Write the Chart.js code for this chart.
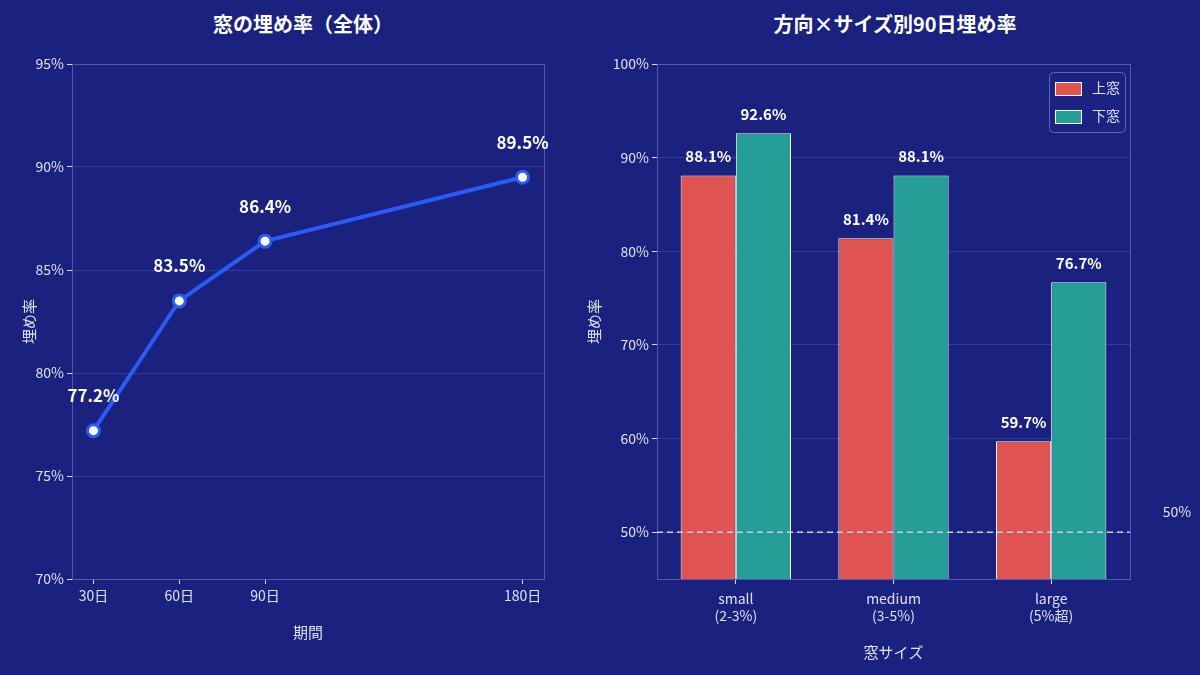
<!DOCTYPE html>
<html>
<head>
<meta charset="utf-8">
<script src="https://cdn.jsdelivr.net/npm/chart.js@4.4.1/dist/chart.umd.min.js"></script>
<style>
html, body { margin: 0; padding: 0; background: #1b217e; }
#wrap { position: relative; width: 1200px; height: 675px; overflow: hidden; font-family: "Noto Sans CJK JP", sans-serif; }
.title { position: absolute; top: 9px; color: #fff; font-weight: bold; font-size: 20px; text-align: center; }
.box { position: absolute; top: 0; height: 675px; }
</style>
</head>
<body>
<div id="wrap">
  <div class="title" style="left:153px;width:300px;">窓の埋め率（全体）</div>
  <div class="title" style="left:745px;width:300px;">方向×サイズ別90日埋め率</div>
  <div class="box" style="left:0;width:570px;"><canvas id="graph-line"></canvas></div>
  <div class="box" style="left:570px;width:630px;"><canvas id="graph-bar"></canvas></div>
</div>
<script>
// left chart
var periods = [30, 60, 90, 180];
var fillRate = [77.2, 83.5, 86.4, 89.5];
var lineTicks = [70, 75, 80, 85, 90, 95];

// right chart
var sizes = [["small", "(2-3%)"], ["medium", "(3-5%)"], ["large", "(5%超)"]];
var upperRate = [88.1, 81.4, 59.7];
var lowerRate = [92.6, 88.1, 76.7];
var barTicks = [50, 60, 70, 80, 90, 100];
var refLine = 50;

var txt = '#dde2f5';
var gridCol = '#343d96';
var spineCol = '#5058b0';

Chart.defaults.font.family = '"Noto Sans CJK JP", sans-serif';
Chart.defaults.color = txt;
Chart.defaults.animation = false;

var framePlugin = {
    id: 'frame',
    afterDatasetsDraw: function(chart){
        var a = chart.chartArea, c = chart.ctx;
        c.save();
        c.strokeStyle = spineCol;
        c.lineWidth = 1;
        c.strokeRect(a.left + 0.5, a.top + 0.5, a.right - a.left, a.bottom - a.top);
        c.restore();
    }
};

var valueLabels = {
    id: 'valueLabels',
    afterDraw: function(chart, args, opts){
        var c = chart.ctx;
        c.save();
        c.fillStyle = '#fff';
        c.font = 'bold ' + opts.size + 'px "Noto Sans CJK JP", sans-serif';
        c.textAlign = 'center';
        c.textBaseline = 'middle';
        chart.data.datasets.forEach(function(ds, i){
            chart.getDatasetMeta(i).data.forEach(function(el, j){
                var v = ds.data[j];
                if (typeof v == 'object') v = v.y;
                c.fillText(v.toFixed(1) + '%', el.x, el.y - opts.offset);
            });
        });
        c.restore();
    }
};

var refPlugin = {
    id: 'refLine',
    afterDatasetsDraw: function(chart){
        var a = chart.chartArea, c = chart.ctx;
        var y = chart.scales.y.getPixelForValue(refLine);
        c.save();
        c.strokeStyle = '#c9cfe8';
        c.lineWidth = 1.5;
        c.setLineDash([6, 4]);
        c.beginPath();
        c.moveTo(a.left, y);
        c.lineTo(a.right, y);
        c.stroke();
        c.setLineDash([]);
        c.fillStyle = txt;
        c.font = '14px "Noto Sans CJK JP", sans-serif';
        c.textAlign = 'center';
        c.textBaseline = 'middle';
        c.fillText(refLine + '%', a.right + 47, y - 20);
        c.restore();
    }
};

var boxLegend = {
    id: 'boxLegend',
    afterDraw: function(chart){
        var a = chart.chartArea, c = chart.ctx;
        var x = a.right - 81, y = a.top + 8, w = 76, h = 60;
        c.save();
        c.fillStyle = '#1c2282';
        c.strokeStyle = '#5a64b8';
        c.lineWidth = 1;
        c.beginPath();
        c.roundRect(x + 0.5, y + 0.5, w, h, 4);
        c.fill();
        c.stroke();
        c.font = '14px "Noto Sans CJK JP", sans-serif';
        c.textBaseline = 'middle';
        chart.data.datasets.forEach(function(ds, i){
            var yy = y + 16 + i * 28;
            c.fillStyle = ds.backgroundColor;
            c.fillRect(x + 6, yy - 6, 26, 13);
            c.strokeStyle = '#fff';
            c.strokeRect(x + 6.5, yy - 5.5, 26, 13);
            c.fillStyle = txt;
            c.fillText(ds.label, x + 43, yy);
        });
        c.restore();
    }
};

function keepTicks(list){
    return function(scale){
        scale.ticks = list.map(function(v){ return {value: v}; });
    };
}

var gl = new Chart(document.getElementById('graph-line'), {
    type: 'line',
    data: {
        datasets: [{
            label: '埋め率',
            data: periods.map(function(p, i){ return {x: p, y: fillRate[i]}; }),
            borderColor: '#2a5cf5',
            borderWidth: 4,
            pointBackgroundColor: '#fff',
            pointBorderColor: '#2a5cf5',
            pointBorderWidth: 3,
            pointRadius: 6,
            tension: 0
        }]
    },
    options: {
        responsive: true,
        maintainAspectRatio: false,
        layout: {padding: {left: 20, right: 26, top: 64, bottom: 34}},
        plugins: {
            legend: {display: false},
            tooltip: {enabled: false},
            valueLabels: {size: 17, offset: 35}
        },
        scales: {
            x: {
                type: 'linear',
                min: 22.5,
                max: 187.5,
                afterBuildTicks: keepTicks(periods),
                afterFit: function(s){ s.height = 62; },
                grid: {drawOnChartArea: false, tickLength: 5, tickColor: txt},
                border: {color: spineCol},
                ticks: {font: {size: 14}, color: txt, padding: 3, callback: function(v){ return v + '日'; }},
                title: {display: true, text: '期間', font: {size: 15}, color: txt, padding: {top: 4, bottom: 0}}
            },
            y: {
                min: 70,
                max: 95,
                afterBuildTicks: keepTicks(lineTicks),
                afterFit: function(s){ s.width = 52; },
                grid: {color: gridCol, tickLength: 5, tickColor: txt},
                border: {color: spineCol},
                ticks: {font: {size: 14}, color: txt, padding: 3, callback: function(v){ return v + '%'; }},
                title: {display: true, text: '埋め率', font: {size: 15}, color: txt, padding: {top: 0, bottom: 0}}
            }
        }
    },
    plugins: [framePlugin, valueLabels]
});

var gb = new Chart(document.getElementById('graph-bar'), {
    type: 'bar',
    data: {
        labels: sizes,
        datasets: [
            {label: '上窓', data: upperRate, backgroundColor: '#e05353', borderColor: '#ffffff', borderWidth: 1},
            {label: '下窓', data: lowerRate, backgroundColor: '#249e96', borderColor: '#ffffff', borderWidth: 1}
        ]
    },
    options: {
        responsive: true,
        maintainAspectRatio: false,
        layout: {padding: {left: 15, right: 70, top: 64, bottom: 14}},
        plugins: {
            legend: {display: false},
            tooltip: {enabled: false},
            valueLabels: {size: 15, offset: 19}
        },
        datasets: {bar: {categoryPercentage: 0.7, barPercentage: 1.0}},
        scales: {
            x: {
                afterFit: function(s){ s.height = 82; },
                grid: {offset: false, drawOnChartArea: false, tickLength: 5, tickColor: txt},
                border: {color: spineCol},
                ticks: {font: {size: 14}, color: txt, padding: 6},
                title: {display: true, text: '窓サイズ', font: {size: 15}, color: txt, padding: {top: 4, bottom: 0}}
            },
            y: {
                min: 45,
                max: 100,
                afterBuildTicks: keepTicks(barTicks),
                afterFit: function(s){ s.width = 72; },
                grid: {color: gridCol, tickLength: 5, tickColor: txt},
                border: {color: spineCol},
                ticks: {font: {size: 14}, color: txt, padding: 3, callback: function(v){ return v + '%'; }},
                title: {display: true, text: '埋め率', font: {size: 15}, color: txt, padding: {top: 0, bottom: 0}}
            }
        }
    },
    plugins: [framePlugin, refPlugin, valueLabels, boxLegend]
});
</script>
</body>
</html>
